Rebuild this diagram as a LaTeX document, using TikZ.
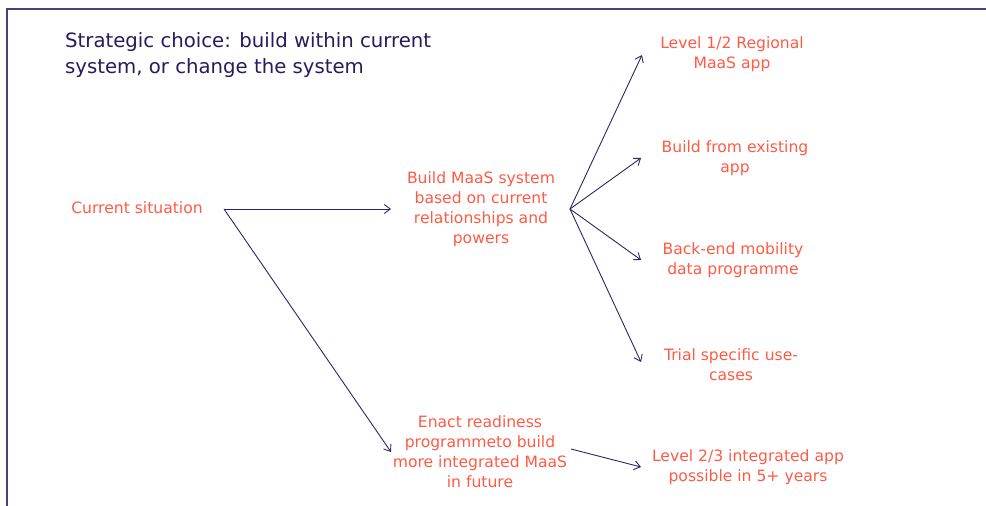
\documentclass[tikz,border=0pt]{standalone}
\usepackage{fontspec}
\setmainfont{DejaVu Sans}
\usetikzlibrary{arrows.meta}
\definecolor{ink}{HTML}{2E2466}
\definecolor{coral}{HTML}{FF5A44}
\definecolor{titleink}{HTML}{2A1A5C}
\definecolor{framec}{HTML}{4B3F7D}
\begin{document}
\begin{tikzpicture}[x=1pt,y=-1pt,
  lbl/.style={text=coral, align=center, inner sep=0pt,
    font=\fontsize{15.6}{20}\selectfont},
  link/.style={draw=ink, line width=0.9pt,
    -{Straight Barb[length=6pt,width=9pt,line width=0.9pt]}}]
\useasboundingbox (0,0) rectangle (986,506);
% frame along the top and left edges
\draw[framec, line width=1.4pt] (986,9) -- (7,9) -- (7,506);

% heading
\node[text=titleink, align=left, inner sep=0pt, anchor=north west,
  font=\fontsize{19.7}{26}\selectfont] (title) at (65,32.5)
  {Strategic choice: build within current\\system, or change the system};

% options
\node[lbl] (cur)   at (137,208) {Current situation};
\node[lbl] (bld)   at (481,209) {Build MaaS system\\based on current\\relationships and\\powers};
\node[lbl] (enact) at (480,452) {Enact readiness\\programmeto build\\more integrated MaaS\\in future};
\node[lbl] (l12)   at (732,54)  {Level 1/2 Regional\\MaaS app};
\node[lbl] (bfe)   at (735,158.5) {Build from existing\\app};
\node[lbl] (bem)   at (733,260.5) {Back-end mobility\\data programme};
\node[lbl] (trial) at (731,364.5) {Trial specific use-\\cases};
\node[lbl] (l23)   at (748,467.5) {Level 2/3 integrated app\\possible in 5+ years};

% connector end points beside the labels
\coordinate (cur-out)   at (224,209);
\coordinate (bld-in)    at (391,209);
\coordinate (bld-out)   at (570,209);
\coordinate (enact-in)  at (391,452);
\coordinate (enact-out) at (571,449);
\coordinate (l12-in)    at (642,55);
\coordinate (bfe-in)    at (641,158);
\coordinate (bem-in)    at (641,260);
\coordinate (trial-in)  at (641,362);
\coordinate (l23-in)    at (641,467);

\draw[link] (cur-out) -- (bld-in);
\draw[link] (cur-out) -- (enact-in);
\draw[link] (bld-out) -- (l12-in);
\draw[link] (bld-out) -- (bfe-in);
\draw[link] (bld-out) -- (bem-in);
\draw[link] (bld-out) -- (trial-in);
\draw[link] (enact-out) -- (l23-in);
\end{tikzpicture}
\end{document}
